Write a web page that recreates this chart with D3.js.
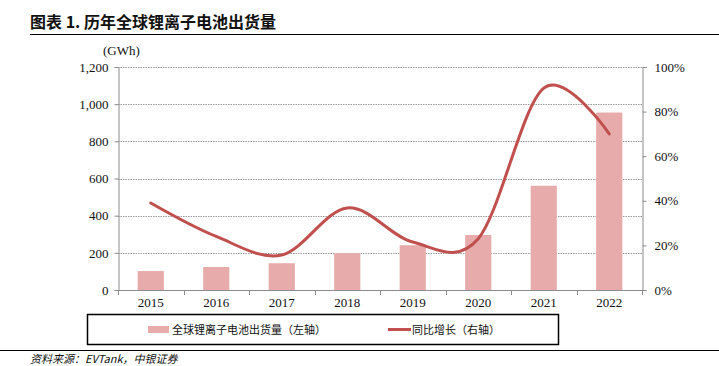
<!DOCTYPE html>
<html>
<head>
<meta charset="utf-8">
<script src="https://cdn.jsdelivr.net/npm/d3@7"></script>
<style>
  body { margin: 0; background: #fff; }
  svg { display: block; }
</style>
</head>
<body>
<div id="chart"></div>
<script>
const years = ['2015', '2016', '2017', '2018', '2019', '2020', '2021', '2022'];
const shipments = [102, 124, 144, 198, 241, 296, 561, 955];
const growth = [0.39, 0.24, 0.157, 0.368, 0.215, 0.23, 0.905, 0.70];
const leftTicks = [0, 200, 400, 600, 800, 1000, 1200];
const rightTicks = [0, 0.2, 0.4, 0.6, 0.8, 1.0];

const width = 719;
const height = 366;
const plot = { left: 118, right: 642, top: 67, bottom: 290 };
const serif = '"Liberation Serif", "Times New Roman", serif';
const cjk = '"Noto Sans CJK SC", sans-serif';
const barColor = '#E8ABAB';
const lineColor = '#C0504D';
const axisColor = '#8c8c8c';

const svg = d3.select('#chart').append('svg')
  .attr('width', width)
  .attr('height', height);

// title
svg.append('text')
  .attr('x', 30).attr('y', 28)
  .attr('font-family', cjk).attr('font-weight', 'bold')
  .attr('font-size', 16).attr('fill', '#111')
  .text('图表 1. 历年全球锂离子电池出货量');

svg.append('line')
  .attr('x1', 30).attr('x2', width).attr('y1', 34.5).attr('y2', 34.5)
  .attr('stroke', '#000').attr('stroke-width', 1);

const x = d3.scaleBand()
  .domain(years)
  .range([plot.left, plot.right])
  .paddingInner(0.6)
  .paddingOuter(0.3);

const yL = d3.scaleLinear().domain([0, 1200]).range([plot.bottom, plot.top]);
const yR = d3.scaleLinear().domain([0, 1]).range([plot.bottom, plot.top]);

// grid
svg.append('g')
  .selectAll('line')
  .data(leftTicks.slice(1))
  .join('line')
    .attr('x1', plot.left).attr('x2', plot.right)
    .attr('y1', d => Math.round(yL(d)) + 0.5).attr('y2', d => Math.round(yL(d)) + 0.5)
    .attr('stroke', '#9a9a9a').attr('stroke-width', 1)
    .attr('stroke-dasharray', '1.5,1');

// bars
svg.append('g')
  .selectAll('rect')
  .data(shipments)
  .join('rect')
    .attr('x', (d, i) => x(years[i]))
    .attr('width', x.bandwidth())
    .attr('y', d => yL(d))
    .attr('height', d => yL(0) - yL(d))
    .attr('fill', barColor);

// left axis
const leftAxis = svg.append('g')
  .attr('transform', `translate(${plot.left + 0.5},0)`)
  .call(d3.axisLeft(yL).tickValues(leftTicks).tickSize(4).tickPadding(6).tickFormat(d3.format(',')));
leftAxis.select('.domain').attr('stroke', axisColor);
leftAxis.selectAll('.tick line').attr('stroke', axisColor);
leftAxis.selectAll('text')
  .attr('font-family', serif).attr('font-size', 13).attr('fill', '#111');

svg.append('text')
  .attr('x', 103).attr('y', 55)
  .attr('font-family', serif).attr('font-size', 13).attr('fill', '#111')
  .text('(GWh)');

// right axis
const rightAxis = svg.append('g')
  .attr('transform', `translate(${plot.right + 0.5},0)`)
  .call(d3.axisRight(yR).tickValues(rightTicks).tickSize(4).tickPadding(8).tickFormat(d3.format('.0%')));
rightAxis.select('.domain').attr('stroke', axisColor);
rightAxis.selectAll('.tick line').attr('stroke', axisColor);
rightAxis.selectAll('text')
  .attr('font-family', serif).attr('font-size', 13).attr('fill', '#111');

// bottom axis
const bottomAxis = svg.append('g')
  .attr('transform', `translate(0,${plot.bottom + 0.5})`)
  .call(d3.axisBottom(x).tickSize(0).tickPadding(7));
bottomAxis.select('.domain').attr('stroke', axisColor).attr('d', `M${plot.left},0H${plot.right}`);
bottomAxis.selectAll('text')
  .attr('font-family', serif).attr('font-size', 13).attr('fill', '#111');
svg.append('g')
  .selectAll('line')
  .data(d3.range(years.length + 1))
  .join('line')
    .attr('x1', i => Math.round(plot.left + i * (plot.right - plot.left) / years.length) + 0.5)
    .attr('x2', i => Math.round(plot.left + i * (plot.right - plot.left) / years.length) + 0.5)
    .attr('y1', plot.bottom).attr('y2', plot.bottom + 5)
    .attr('stroke', axisColor);

// growth line
const line = d3.line()
  .x((d, i) => x(years[i]) + x.bandwidth() / 2)
  .y(d => yR(d))
  .curve(d3.curveCardinal.tension(0));

svg.append('path')
  .datum(growth)
  .attr('d', line)
  .attr('fill', 'none')
  .attr('stroke', lineColor)
  .attr('stroke-width', 3)
  .attr('stroke-linecap', 'round');

// legend
svg.append('rect')
  .attr('x', 87.5).attr('y', 314.5).attr('width', 471).attr('height', 30)
  .attr('fill', 'none').attr('stroke', '#000').attr('stroke-width', 1.5);

svg.append('rect')
  .attr('x', 148).attr('y', 326).attr('width', 21).attr('height', 7)
  .attr('fill', barColor);
svg.append('text')
  .attr('x', 172).attr('y', 334)
  .attr('font-family', cjk).attr('font-size', 11).attr('fill', '#111')
  .text('全球锂离子电池出货量（左轴）');

svg.append('line')
  .attr('x1', 388).attr('x2', 411).attr('y1', 329.5).attr('y2', 329.5)
  .attr('stroke', lineColor).attr('stroke-width', 3);
svg.append('text')
  .attr('x', 412).attr('y', 334)
  .attr('font-family', cjk).attr('font-size', 11).attr('fill', '#111')
  .text('同比增长（右轴）');

// footer
svg.append('line')
  .attr('x1', 0).attr('x2', width).attr('y1', 350.5).attr('y2', 350.5)
  .attr('stroke', '#000').attr('stroke-width', 1);

svg.append('text')
  .attr('x', 30).attr('y', 363)
  .attr('font-family', cjk).attr('font-style', 'italic')
  .attr('font-size', 11).attr('fill', '#111')
  .text('资料来源：EVTank，中银证券');
</script>
</body>
</html>
